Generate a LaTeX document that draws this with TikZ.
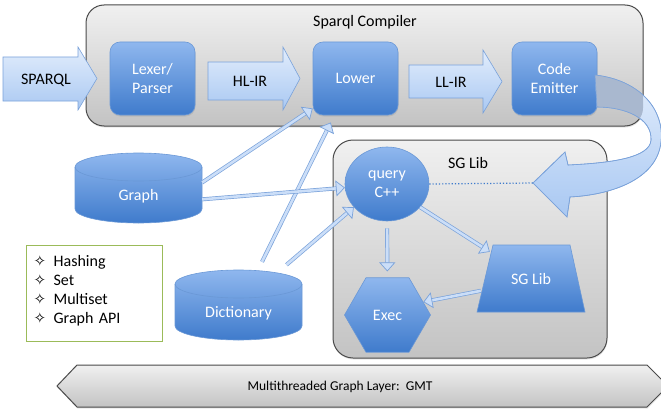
\documentclass[tikz,border=0pt]{standalone}
\usepackage{fontspec}
\setmainfont{Carlito}
\newfontfamily\symfont{DejaVu Sans}
\usetikzlibrary{shapes.geometric,arrows.meta,shadows}

\definecolor{boxtop}{HTML}{8FB7EE}
\definecolor{boxbot}{HTML}{3F7BCC}
\definecolor{boxedge}{HTML}{6A98D6}
\definecolor{pipetop}{HTML}{E2EDFC}
\definecolor{pipebot}{HTML}{A9C8F2}
\definecolor{pipeedge}{HTML}{7AA2DA}
\definecolor{bandgray}{HTML}{A9B8CF}
\definecolor{frametop}{HTML}{F0F0F0}
\definecolor{framebot}{HTML}{C3C3C3}
\definecolor{frameedge}{HTML}{4A4A4A}
\definecolor{legendedge}{HTML}{9BBB59}

\tikzstyle{unitb}=[rounded corners=10pt,draw=boxedge,line width=0.6pt,top color=boxtop,bottom color=boxbot,text=white,minimum width=85pt,minimum height=73pt,align=center,inner sep=0pt,drop shadow={opacity=0.2,shadow xshift=0.5pt,shadow yshift=-1.5pt}]
\tikzstyle{shapeb}=[draw=boxedge,line width=0.6pt,top color=boxtop,bottom color=boxbot,text=white,align=center,inner sep=0pt]
\tikzstyle{frameg}=[rounded corners=20pt,draw=frameedge,line width=1pt,top color=frametop,bottom color=framebot,drop shadow={opacity=0.2,shadow xshift=0.5pt,shadow yshift=-1.5pt}]
\tikzstyle{pipeb}=[draw=pipeedge,line width=0.6pt,top color=pipetop,bottom color=pipebot]
\tikzstyle{linkb}=[draw=pipeedge,line width=0.7pt,double=pipetop!60!pipebot,double distance=2.6pt,-{Triangle[length=9pt,width=16pt,fill=pipetop!60!pipebot]}]

\newcommand{\featitem}[1]{\makebox[20pt][l]{\symfont\fontsize{15}{16}\selectfont ✧}#1}
\def\bandpath{(595,75) .. controls (640,80) and (665,110) .. (661,142) .. controls (657,180) and (610,195) .. (570,197) -- (567,217) -- (533,183) -- (565,152) -- (568,165) .. controls (610,163) and (650,158) .. (651,140) .. controls (652,118) and (625,107) .. (597,107) -- cycle}

\begin{document}
\begin{tikzpicture}[x=1pt,y=-1pt,font=\fontsize{16}{19}\selectfont]
    \clip (0,0) rectangle (661,412);
    % containers
    \draw[frameg,rounded corners=18pt] (86,5) rectangle (643,126);
    \node (compilertitle) at (365,22) {Sparql Compiler};
    \draw[frameg] (333,140) rectangle (607,358);
    \node (sgtitle) at (468,163) {SG Lib};

    % compiler stages
    \node[unitb] (lexer) at (152.5,78.5) {Lexer/\\Parser};
    \node[unitb] (lower) at (355.5,78.5) {Lower};
    \node[unitb] (emitter) at (554.5,78.5) {Code\\Emitter};

    \draw[pipeb] (3,57) -- (78,57) -- (78,47) -- (97,78.5) -- (78,110) -- (78,101) -- (3,101) -- cycle;
    \node (sparql) at (46,80) {SPARQL};
    \draw[pipeb] (208,62) -- (283,62) -- (283,47) -- (300,78.5) -- (283,110) -- (283,100) -- (208,100) -- cycle;
    \node (hlir) at (250,81) {HL-IR};
    \draw[pipeb] (409,65) -- (483,65) -- (483,50) -- (502,81.5) -- (483,113) -- (483,98) -- (409,98) -- cycle;
    \node (llir) at (451,82) {LL-IR};

    % emitted code goes to the library
    \coordinate (bandtip) at (533,183);
    \path[pipeb] \bandpath;
    \begin{scope}
        \clip[rounded corners=18pt] (86,5) rectangle (643,126);
        \fill[bandgray] \bandpath;
    \end{scope}
    \draw[pipeedge,line width=0.6pt] \bandpath;

    % stores
    \path[shapeb] (75,167) -- (75,209) arc[start angle=180,end angle=0,x radius=63.5,y radius=14] -- (202,167) arc[start angle=0,end angle=-180,x radius=63.5,y radius=14] -- cycle;
    \draw[boxedge,line width=0.6pt] (75,167) arc[start angle=180,end angle=0,x radius=63.5,y radius=14];
    \node[text=white,minimum width=127pt,minimum height=54pt] (graph) at (138.5,196) {Graph};
    \path[shapeb] (175,284) -- (175,326) arc[start angle=180,end angle=0,x radius=63.5,y radius=14] -- (302,284) arc[start angle=0,end angle=-180,x radius=63.5,y radius=14] -- cycle;
    \draw[boxedge,line width=0.6pt] (175,284) arc[start angle=180,end angle=0,x radius=63.5,y radius=14];
    \node[text=white,minimum width=127pt,minimum height=54pt] (dict) at (238.5,313) {Dictionary};

    \node[draw=legendedge,line width=1.3pt,anchor=north west,minimum width=136pt,minimum height=96pt,text width=122pt,inner xsep=7pt,align=left] (features) at (26,245)
        {\featitem{Hashing}\\\featitem{Set}\\\featitem{Multiset}\\\featitem{Graph API}\vspace{5pt}};

    % library parts
    \node[shapeb,ellipse,minimum width=84pt,minimum height=74pt] (query) at (387,184) {query\\C++};
    \node[shapeb,regular polygon,regular polygon sides=6,minimum size=86pt] (exec) at (387.5,315) {Exec};
    \path[shapeb] (493,245) -- (570,245) -- (585,312) -- (477,312) -- cycle;
    \node[text=white,minimum width=108pt,minimum height=67pt] (sglib) at (531,278.5) {SG Lib};

    \draw[boxbot,dotted,line width=1.2pt] (query.east) -- (bandtip);

    \draw[linkb] (graph.12) -- (lower.215);
    \draw[linkb,shorten >=8pt] ([xshift=23.5pt,yshift=24pt]dict.north) -- (lower.240);
    \draw[linkb] (graph.-3) -- (query.185);
    \draw[linkb] ([xshift=48pt,yshift=21pt]dict.north) -- (query.215);
    \draw[linkb,shorten <=7pt,shorten >=6pt] (query) -- (exec);
    \draw[linkb] (query.-35) -- ([xshift=13pt,yshift=-7pt]sglib.north west);
    \draw[linkb] ([xshift=4pt,yshift=-46pt]sglib.north west) -- (exec.20);

    % runtime layer
    \path[frameg,rounded corners=0pt] (57,386) -- (77,365) -- (647,365) -- (668,386) -- (647,407) -- (77,407) -- cycle;
    \node[font=\fontsize{13.5}{16}\selectfont] (gmt) at (340,387) {Multithreaded Graph Layer:\ \ GMT};
\end{tikzpicture}
\end{document}
